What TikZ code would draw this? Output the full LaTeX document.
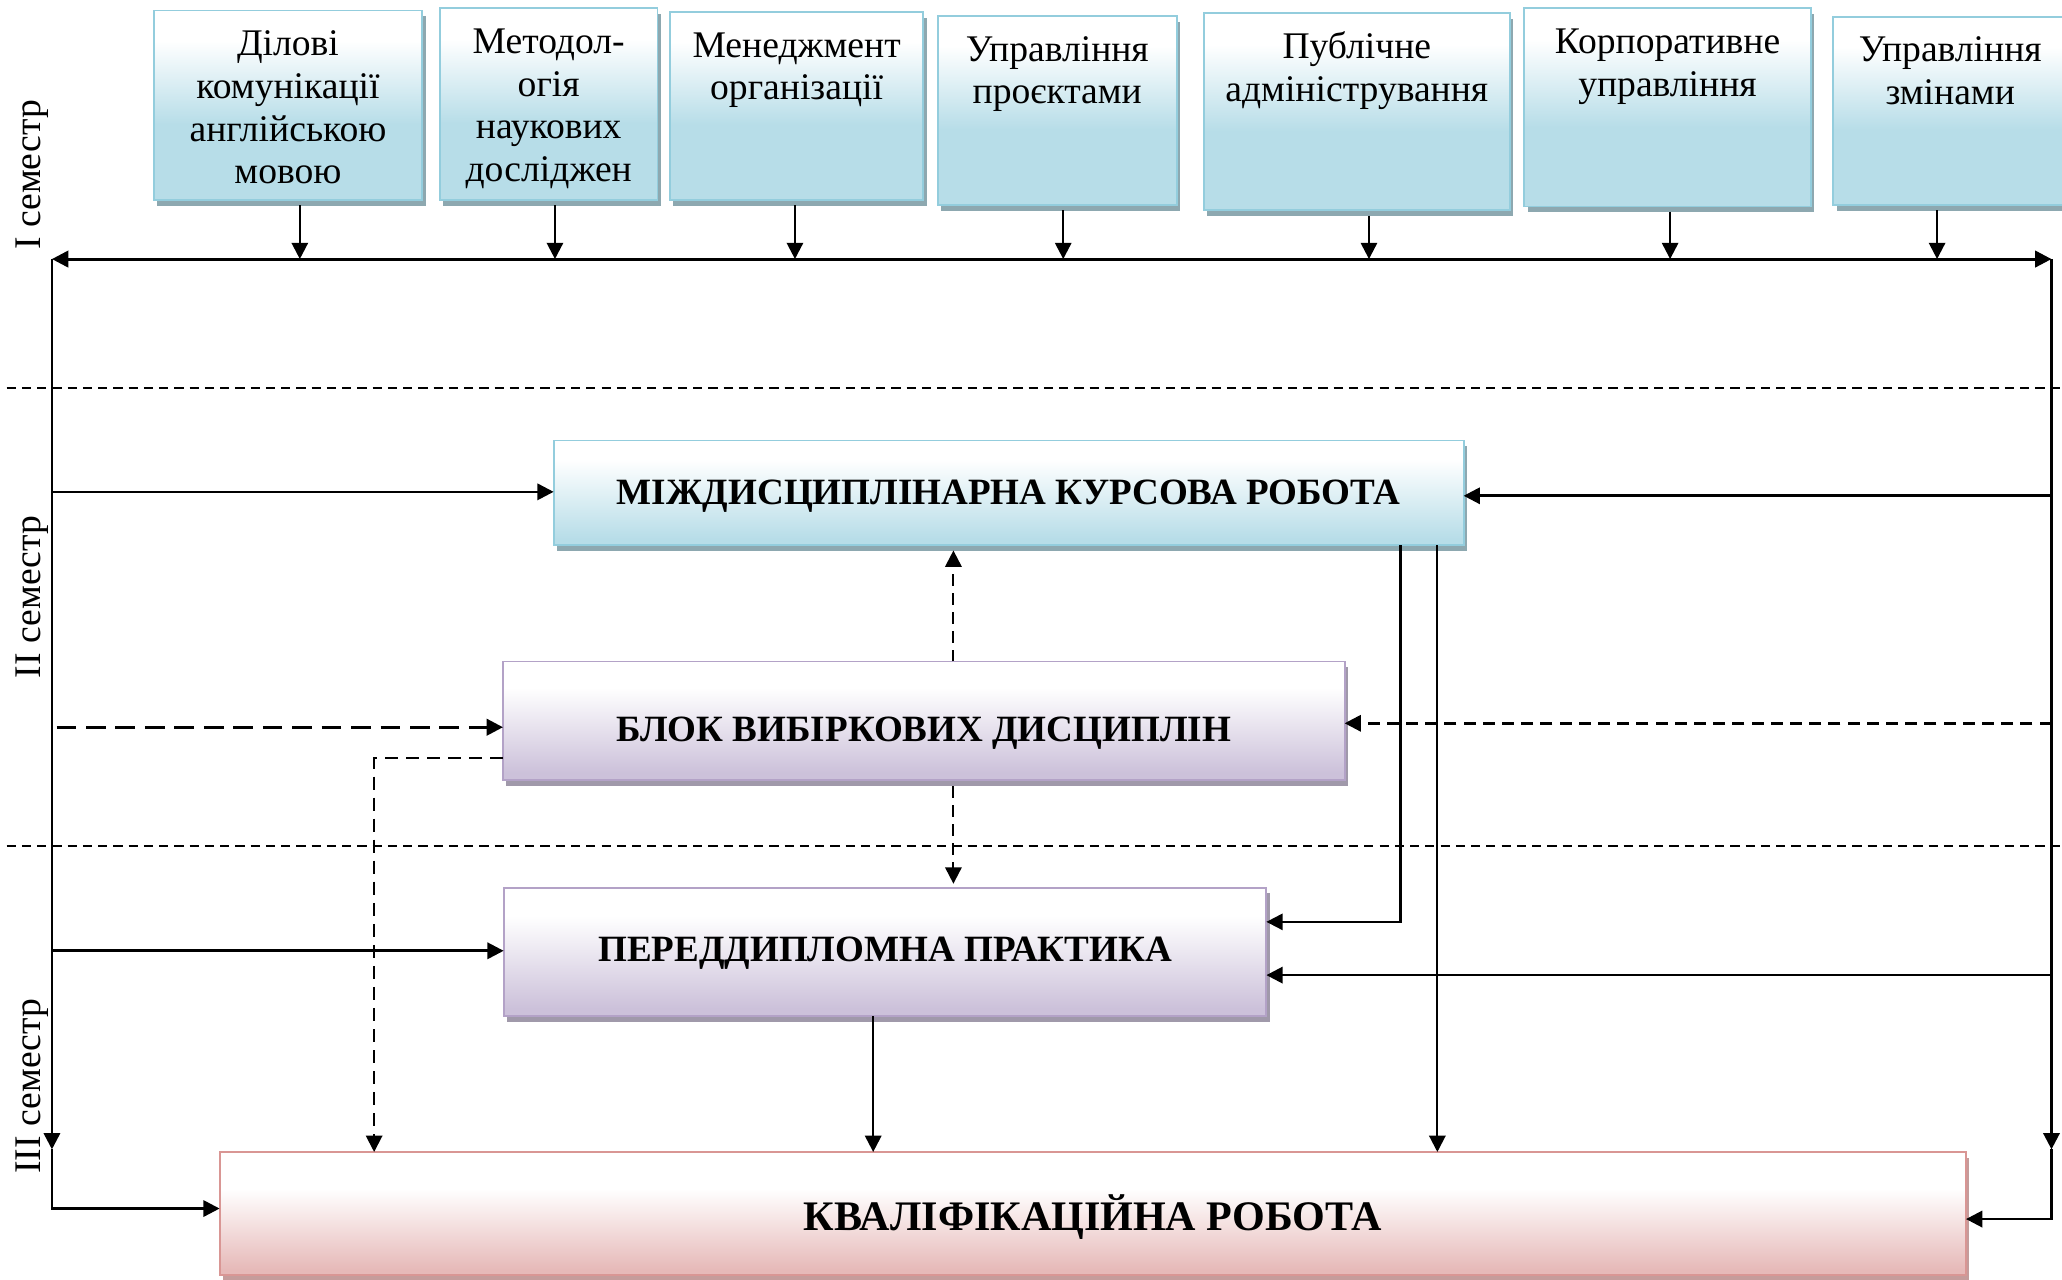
\documentclass[tikz,border=0pt]{standalone}
\usepackage{fontspec}
\setmainfont{Liberation Serif}
\usetikzlibrary{arrows.meta,shadows}
\definecolor{tbfill}{HTML}{B7DDE8}
\definecolor{tbborder}{HTML}{93CDDD}
\definecolor{tbshadow}{HTML}{8DA8B0}
\definecolor{pufill}{HTML}{CCC1DA}
\definecolor{puborder}{HTML}{B3A2C7}
\definecolor{pushadow}{HTML}{A099AA}
\definecolor{pkfill}{HTML}{E6B9B8}
\definecolor{pkborder}{HTML}{D99694}
\definecolor{pkshadow}{HTML}{C59C9B}
\pgfdeclareverticalshading{topshade}{100bp}{color(0bp)=(tbfill); color(45bp)=(tbfill); color(67bp)=(white); color(100bp)=(white)}
\pgfdeclareverticalshading{blueshade}{100bp}{color(0bp)=(tbfill); color(28bp)=(tbfill); color(66bp)=(white); color(100bp)=(white)}
\pgfdeclareverticalshading{purpleshade}{100bp}{color(0bp)=(pufill); color(28bp)=(pufill); color(64bp)=(white); color(100bp)=(white)}
\pgfdeclareverticalshading{pinkshade}{100bp}{color(0bp)=(pkfill); color(27bp)=(pkfill); color(60bp)=(white); color(100bp)=(white)}
\begin{document}
\begin{tikzpicture}[x=0.5pt,y=-0.5pt,
  >={Triangle[length=6.2pt,width=6.2pt]},
  basebox/.style={rectangle, outer sep=0pt, inner sep=0pt, line width=0.7pt},
  topbox/.style={basebox, draw=tbborder, shade, shading=topshade,
     drop shadow={shadow xshift=1.3pt, shadow yshift=-2.2pt, fill=tbshadow, opacity=1}},
  bluebox/.style={basebox, draw=tbborder, shade, shading=blueshade,
     drop shadow={shadow xshift=1.3pt, shadow yshift=-2.2pt, fill=tbshadow, opacity=1},
     font=\bfseries\fontsize{14.1}{16}\selectfont},
  purplebox/.style={basebox, draw=puborder, shade, shading=purpleshade,
     drop shadow={shadow xshift=1.3pt, shadow yshift=-2.2pt, fill=pushadow, opacity=1},
     font=\bfseries\fontsize{14.1}{16}\selectfont},
  pinkbox/.style={basebox, draw=pkborder, shade, shading=pinkshade,
     drop shadow={shadow xshift=1.3pt, shadow yshift=-2.2pt, fill=pkshadow, opacity=1},
     font=\bfseries\fontsize{16}{18}\selectfont},
  toptext/.style={anchor=north, inner sep=0pt, align=center, font=\fontsize{14.3}{16.25}\selectfont},
  semlabel/.style={rotate=90, anchor=base, inner sep=0pt, font=\fontsize{14.3}{16}\selectfont},
  conn/.style={->, line width=1pt},
  tconn/.style={->, line width=0.9pt},
  dlong/.style={dash pattern=on 7.5pt off 3.7pt, line width=1.1pt},
  dright/.style={dash pattern=on 4.5pt off 2.8pt, line width=1pt},
  dvert/.style={dash pattern=on 4.4pt off 2.8pt, line width=0.8pt},
  dpath/.style={dash pattern=on 5pt off 3pt, line width=0.75pt},
  divider/.style={dash pattern=on 3.5pt off 2.3pt, line width=0.75pt}
]
\useasboundingbox (0,0) rectangle (1568,973);

% semester dividers
\coordinate (V1a) at (5,295); \coordinate (V1b) at (1568,295);
\coordinate (V2a) at (5,643); \coordinate (V2b) at (1568,643);
\draw[divider] (V1a) -- (V1b);
\draw[divider] (V2a) -- (V2b);

% semester labels
\node[semlabel] (s1) at (30.5,133) {I семестр};
\node[semlabel] (s2) at (30.5,454) {II семестр};
\node[semlabel] (s3) at (30.5,826) {III семестр};

% top discipline boxes
\node[topbox, minimum width=102pt, minimum height=72pt] (b1) at (219,80) {};
\node[topbox, minimum width=82.75pt, minimum height=72.85pt] (b2) at (417.25,79.15) {};
\node[topbox, minimum width=96.25pt, minimum height=71.5pt] (b3) at (605.75,80.5) {};
\node[topbox, minimum width=91pt, minimum height=72pt] (b4) at (804,84) {};
\node[topbox, minimum width=116.25pt, minimum height=75pt] (b5) at (1031.75,85) {};
\node[topbox, minimum width=109pt, minimum height=75.35pt] (b6) at (1268,81.65) {};
\node[topbox, minimum width=89pt, minimum height=71.65pt] (b7) at (1483,84.35) {};

\node[toptext] (t1) at (b1.north) {\rule{0pt}{17pt}Ділові\\комунікації\\англійською\\мовою};
\node[toptext] (t2) at (b2.north) {\rule{0pt}{17pt}Методол-\\огія\\наукових\\досліджен};
\node[toptext] (t3) at (b3.north) {\rule{0pt}{17pt}Менеджмент\\організації};
\node[toptext] (t4) at (b4.north) {\rule{0pt}{17pt}Управління\\проєктами};
\node[toptext] (t5) at (b5.north) {\rule{0pt}{17pt}Публічне\\адміністрування};
\node[toptext] (t6) at (b6.north) {\rule{0pt}{17pt}Корпоративне\\управління};
\node[toptext] (t7) at (b7.north) {\rule{0pt}{17pt}Управління\\змінами};

% main boxes
\node[bluebox, minimum width=346pt, minimum height=39.8pt, text height=12.5pt, text depth=3.3pt] (mkr) at (767,374.8) {МІЖДИСЦИПЛІНАРНА КУРСОВА РОБОТА};
\node[purplebox, minimum width=320pt, minimum height=45pt, text height=17.5pt, text depth=1.3pt] (bvd) at (702.5,548) {БЛОК ВИБІРКОВИХ ДИСЦИПЛІН};
\node[purplebox, minimum width=290pt, minimum height=48.9pt, text height=12.5pt, text depth=5.1pt] (ppd) at (673,723.9) {ПЕРЕДДИПЛОМНА ПРАКТИКА};
\node[pinkbox, minimum width=664pt, minimum height=46.75pt, text height=15pt, text depth=1.8pt] (kr) at (831,922.75) {КВАЛІФІКАЦІЙНА РОБОТА};

% main horizontal line and arrows from discipline boxes
\coordinate (TL) at (39.5,197); \coordinate (TR) at (1560,197);
\coordinate (m1) at (228,197); \coordinate (m2) at (422,197);
\coordinate (m3) at (604.5,197); \coordinate (m4) at (808.5,197);
\coordinate (m5) at (1041,197); \coordinate (m6) at (1270,197);
\coordinate (m7) at (1473,197);
\draw[<->, line width=1.1pt] (TL) -- (TR);
\foreach \i in {1,...,7}{
  \draw[tconn, shorten <=2pt] (b\i.south -| m\i) -- (m\i);
}

% left trunk
\coordinate (LA) at (39.5,874); \coordinate (LK) at (39.5,919);
\coordinate (LM) at (39.5,374); \coordinate (LB) at (43,553);
\coordinate (LP) at (39.5,723);
\draw[conn] (TL) -- (LA);
\draw[conn] (LA) -- (LK) -- (LK -| kr.west);
\draw[conn] (LM) -- (LM -| mkr.west);
\draw[->, dlong] (LB) -- (LB -| bvd.west);
\draw[conn] (LP) -- (LP -| ppd.west);

% right trunk
\coordinate (RA) at (1560,874); \coordinate (RK) at (1560,927);
\coordinate (RM) at (1560,377); \coordinate (RB) at (1560,550);
\coordinate (RP) at (1560,741.5);
\draw[conn] (TR) -- (RA);
\draw[conn] (RA) -- (RK) -- (RK -| kr.east);
\draw[conn] (RM) -- (RM -| mkr.east);
\draw[->, dright] (RB) -- (RB -| bvd.east);
\draw[conn] (RP) -- (RP -| ppd.east);

% links between main boxes
\coordinate (K1) at (1065,701);
\coordinate (K2) at (1093,700);
\coordinate (K3) at (664,800);
\draw[->, line width=0.8pt] (mkr.south -| K1) -- (K1) -- (K1 -| ppd.east);
\draw[->, line width=0.8pt] (mkr.south -| K2) -- (kr.north -| K2);
\draw[->, line width=0.85pt] (ppd.south -| K3) -- (kr.north -| K3);

\coordinate (D1) at (725,460);
\coordinate (D2) at (284.5,576.5);
\draw[->, dvert, shorten >=2pt] (bvd.north -| D1) -- (mkr.south -| D1);
\draw[->, dvert, shorten <=2.5pt, shorten >=1.5pt] (bvd.south -| D1) -- (ppd.north -| D1);
\draw[->, dpath] (D2 -| bvd.west) -- (D2) -- (D2 |- kr.north);
\end{tikzpicture}
\end{document}
